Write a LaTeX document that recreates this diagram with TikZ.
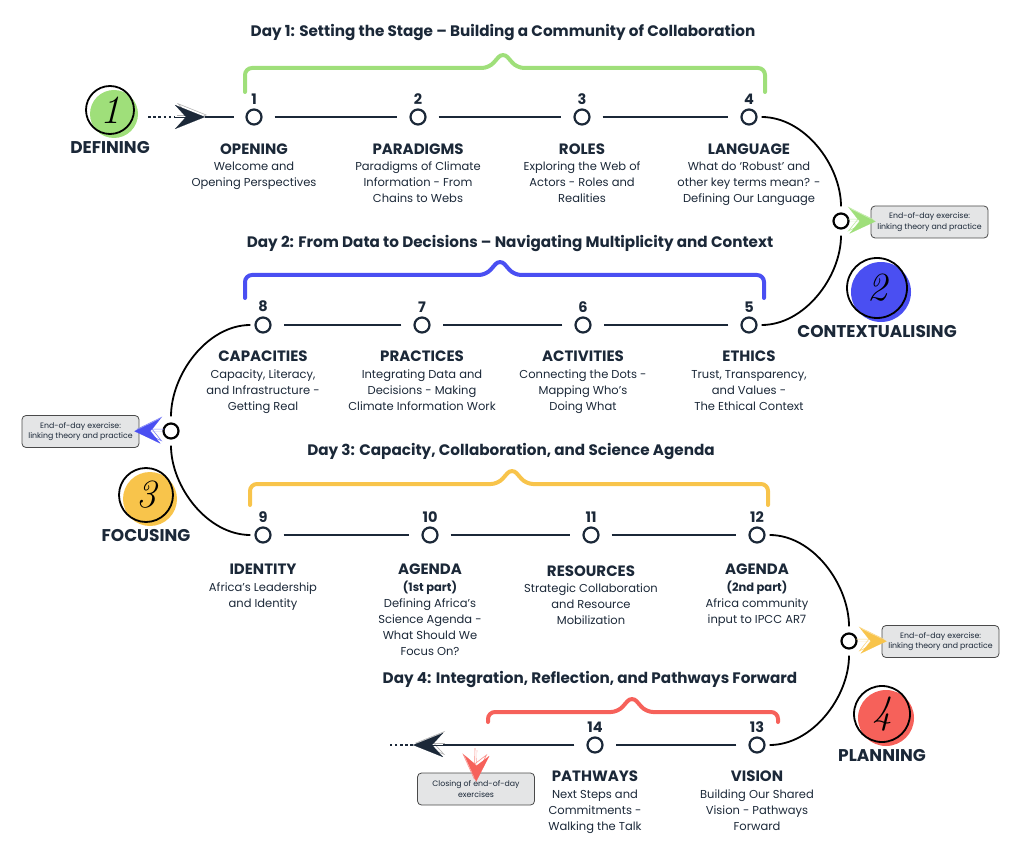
\documentclass[tikz,border=0pt]{standalone}
\usepackage{fontspec}
\setsansfont{Poppins}
\renewcommand{\familydefault}{\sfdefault}
\usetikzlibrary{arrows.meta,positioning}

\definecolor{ink}{HTML}{1B2838}
\definecolor{dayone}{HTML}{9FDF7A}
\definecolor{daytwo}{HTML}{4A4FF2}
\definecolor{daythree}{HTML}{F8C44B}
\definecolor{dayfour}{HTML}{F6615A}
\definecolor{boxfill}{HTML}{E4E5E6}
\definecolor{boxline}{HTML}{4A4A4A}

\newcommand{\ttl}{\fontsize{15}{16}\selectfont\bfseries}
\newcommand{\partnote}{\fontsize{11.5}{16}\selectfont\bfseries}

% colour, left, right, top, bottom, peak
\newcommand{\daybrace}[6]{%
  \draw[#1, brace] (#2,#5) -- (#2,#4) -- ({#6-14},#4) -- (#6,{#4-16})
    -- ({#6+14},#4) -- (#3,#4) -- (#3,#5);}

% name, x, y, radius, colour, digit, phase
\newcommand{\badge}[7]{%
  \fill[#5] ({#2+4},{#3+4}) circle (#4);
  \node[ring, minimum size=2*#4] (#1) at (#2,#3) {#6};
  \node[phase, below=6pt of #1] {#7};}

\tikzset{
  stop/.style={circle, draw=ink, line width=2.2pt, minimum size=15pt, inner sep=0pt},
  exmark/.style={circle, draw=black, line width=2.2pt, minimum size=15pt, inner sep=0pt},
  num/.style={font=\fontsize{14.5}{14.5}\selectfont\bfseries, text=ink, inner sep=0pt},
  info/.style={align=center, text=ink, inner sep=0pt, font=\fontsize{11.5}{16}\selectfont},
  daytitle/.style={font=\fontsize{15.2}{16}\selectfont\bfseries, text=ink},
  brace/.style={line width=4pt, rounded corners=7pt, line cap=round},
  track/.style={draw=ink, line width=2.6pt, shorten <=12pt, shorten >=12pt},
  arc/.style={draw=black, line width=1.8pt},
  dots/.style={draw=ink, line width=2.6pt, dash pattern=on 2.6pt off 2.6pt},
  bighead/.style={ink, line width=0.1pt, -{Stealth[length=30pt,width=24pt,inset=11pt]}},
  bigghost/.style={draw=gray!60, line width=0.6pt, -{Stealth[open,length=30pt,width=24pt,inset=11pt]}},
  exhead/.style={line width=0.1pt, shorten >=-5pt, -{Stealth[length=26pt,width=25pt,inset=10pt]}},
  exghost/.style={line width=0.6pt, shorten >=-5pt, -{Stealth[open,length=26pt,width=25pt,inset=10pt]}},
  exbox/.style={draw=boxline, fill=boxfill, rounded corners=4pt, line width=0.8pt,
    minimum width=117pt, minimum height=32pt, align=center, text=ink, inner sep=2pt,
    font=\fontsize{7.8}{10.5}\selectfont},
  ring/.style={circle, draw=black, line width=1.8pt, inner sep=0pt,
    font=\rmfamily\itshape\fontsize{40}{40}\selectfont},
  phase/.style={font=\fontsize{17}{17}\selectfont\bfseries, text=ink, inner sep=0pt},
}

\begin{document}
\begin{tikzpicture}[x=1pt,y=-1pt]
  \useasboundingbox (0,0) rectangle (1024,858);

  % day titles and braces
  \node[daytitle] (d1) at (503,33) {Day 1: Setting the Stage -- Building a Community of Collaboration};
  \daybrace{dayone}{245}{765}{68}{92}{503}
  \node[daytitle] (d2) at (510,244) {Day 2: From Data to Decisions -- Navigating Multiplicity and Context};
  \daybrace{daytwo}{245}{764}{275}{298}{500}
  \node[daytitle] (d3) at (511,451) {Day 3: Capacity, Collaboration, and Science Agenda};
  \daybrace{daythree}{250}{768}{484}{505}{512}
  \node[daytitle] (d4) at (590,679) {Day 4: Integration, Reflection, and Pathways Forward};
  \daybrace{dayfour}{488}{778}{712}{722}{632}

  % phases
  \badge{p1}{110}{110}{24}{dayone}{1}{DEFINING}
  \badge{p2}{877}{288}{30}{daytwo}{2}{CONTEXTUALISING}
  \badge{p3}{146}{495}{27}{daythree}{3}{FOCUSING}
  \badge{p4}{882}{714}{28}{dayfour}{4}{PLANNING}

  % day 1
  \node[stop, label={[num,label distance=4pt]above:1}] (c1) at (254,117) {};
  \node[stop, label={[num,label distance=4pt]above:2}] (c2) at (418,117) {};
  \node[stop, label={[num,label distance=4pt]above:3}] (c3) at (582,117) {};
  \node[stop, label={[num,label distance=4pt]above:4}] (c4) at (749,117) {};
  \node[info, below=18pt of c1] (t1) {{\ttl OPENING}\\[0.5pt]Welcome and\\Opening Perspectives};
  \node[info, below=18pt of c2] (t2) {{\ttl PARADIGMS}\\[0.5pt]Paradigms of Climate\\Information - From\\Chains to Webs};
  \node[info, below=18pt of c3] (t3) {{\ttl ROLES}\\[0.5pt]Exploring the Web of\\Actors - Roles and\\Realities};
  \node[info, below=18pt of c4] (t4) {{\ttl LANGUAGE}\\[0.5pt]What do ‘Robust’ and\\other key terms mean? -\\Defining Our Language};

  % day 2
  \node[stop, label={[num,label distance=4pt]above:5}] (c5) at (749,325) {};
  \node[stop, label={[num,label distance=4pt]above:6}] (c6) at (583,325) {};
  \node[stop, label={[num,label distance=4pt]above:7}] (c7) at (422,325) {};
  \node[stop, label={[num,label distance=4pt]above:8}] (c8) at (263,325) {};
  \node[info, below=17.5pt of c5] (t5) {{\ttl ETHICS}\\[0.5pt]Trust, Transparency,\\and Values -\\The Ethical Context};
  \node[info, below=17.5pt of c6] (t6) {{\ttl ACTIVITIES}\\[0.5pt]Connecting the Dots -\\Mapping Who’s\\Doing What};
  \node[info, below=17.5pt of c7] (t7) {{\ttl PRACTICES}\\[0.5pt]Integrating Data and\\Decisions - Making\\Climate Information Work};
  \node[info, below=17.5pt of c8] (t8) {{\ttl CAPACITIES}\\[0.5pt]Capacity, Literacy,\\and Infrastructure -\\Getting Real};

  % day 3
  \node[stop, label={[num,label distance=4pt]above:9}] (c9) at (263,535) {};
  \node[stop, label={[num,label distance=4pt]above:10}] (c10) at (430,535) {};
  \node[stop, label={[num,label distance=4pt]above:11}] (c11) at (591,535) {};
  \node[stop, label={[num,label distance=4pt]above:12}] (c12) at (757,535) {};
  \node[info, below=20.5pt of c9] (t9) {{\ttl IDENTITY}\\[1pt]Africa’s Leadership\\and Identity};
  \node[info, below=20.5pt of c10] (t10) {{\ttl AGENDA}\\[0.5pt]{\partnote (1st part)}\\[0.5pt]Defining Africa’s\\Science Agenda -\\What Should We\\Focus On?};
  \node[info, below=22pt of c11] (t11) {{\ttl RESOURCES}\\[0.5pt]Strategic Collaboration\\and Resource\\Mobilization};
  \node[info, below=20.5pt of c12] (t12) {{\ttl AGENDA}\\[0.5pt]{\partnote (2nd part)}\\[0.5pt]Africa community\\input to IPCC AR7};

  % day 4
  \node[stop, label={[num,label distance=4pt]above:13}] (c13) at (757,745) {};
  \node[stop, label={[num,label distance=4pt]above:14}] (c14) at (595,745) {};
  \node[info, below=17.5pt of c13] (t13) {{\ttl VISION}\\[0.5pt]Building Our Shared\\Vision - Pathways\\Forward};
  \node[info, below=17.5pt of c14] (t14) {{\ttl PATHWAYS}\\[0.5pt]Next Steps and\\Commitments -\\Walking the Talk};

  % end-of-day exercises
  \node[exmark] (m1) at (841,221) {};
  \node[exmark] (m2) at (171,431) {};
  \node[exmark] (m3) at (849,641) {};
  \node[exbox] (b1) at (929.5,222) {End-of-day exercise:\\linking theory and practice};
  \node[exbox] (b2) at (80.5,431.5) {End-of-day exercise:\\linking theory and practice};
  \node[exbox] (b3) at (940.5,641.5) {End-of-day exercise:\\linking theory and practice};
  \node[exbox] (b4) at (476,789) {Closing of end-of-day\\exercises};

  % track
  \coordinate (start) at (148,117);
  \coordinate (tail) at (175,117);
  \coordinate (tip) at (205,117);
  \draw[dots] (start) -- (tail);
  \draw[bigghost, transform canvas={xshift=2pt,yshift=2pt}] (tail) -- (tip);
  \draw[bighead] (tail) -- (tip);
  \draw[track, shorten <=0pt, shorten >=11pt] (tip) -- (c1);
  \draw[track] (c1) -- (c2);
  \draw[track] (c2) -- (c3);
  \draw[track] (c3) -- (c4);
  \draw[arc, shorten <=4pt, shorten >=6pt] (c4) to[out=0,in=90,looseness=0.95] (m1);
  \draw[arc, shorten <=6pt, shorten >=4pt] (m1) to[out=-90,in=0,looseness=0.95] (c5);
  \draw[track] (c5) -- (c6);
  \draw[track] (c6) -- (c7);
  \draw[track] (c7) -- (c8);
  \draw[arc, shorten <=4pt, shorten >=6pt] (c8) to[out=180,in=90,looseness=0.95] (m2);
  \draw[arc, shorten <=6pt, shorten >=4pt] (m2) to[out=-90,in=180,looseness=0.95] (c9);
  \draw[track] (c9) -- (c10);
  \draw[track] (c10) -- (c11);
  \draw[track] (c11) -- (c12);
  \draw[arc, shorten <=4pt, shorten >=6pt] (c12) to[out=0,in=90,looseness=0.95] (m3);
  \draw[arc, shorten <=6pt, shorten >=4pt] (m3) to[out=-90,in=0,looseness=0.95] (c13);
  \draw[track] (c13) -- (c14);
  \coordinate (endtail) at (443,745);
  \coordinate (endtip) at (413,745);
  \coordinate (enddots) at (388,745);
  \draw[track, shorten >=0pt] (c14) -- (endtail);
  \draw[dots] (endtip) -- (enddots);
  \draw[bigghost, transform canvas={xshift=2pt,yshift=2pt}] (endtail) -- (endtip);
  \draw[bighead] (endtail) -- (endtip);

  % exercise arrows
  \draw[exghost, dayone!70, transform canvas={xshift=-2pt,yshift=2pt}] (m1) -- (b1);
  \draw[exhead, dayone] (m1) -- (b1);
  \draw[exghost, daytwo!70, transform canvas={xshift=2pt,yshift=2pt}] (m2) -- (b2);
  \draw[exhead, daytwo] (m2) -- (b2);
  \draw[exghost, daythree!70, transform canvas={xshift=-2pt,yshift=2pt}] (m3) -- (b3);
  \draw[exhead, daythree] (m3) -- (b3);
  \coordinate (closetail) at (477,750);
  \draw[exghost, dayfour!70, shorten >=-9pt, transform canvas={xshift=-2pt,yshift=2pt}] (closetail) -- (b4);
  \draw[exhead, dayfour, shorten >=-9pt] (closetail) -- (b4);
\end{tikzpicture}
\end{document}
